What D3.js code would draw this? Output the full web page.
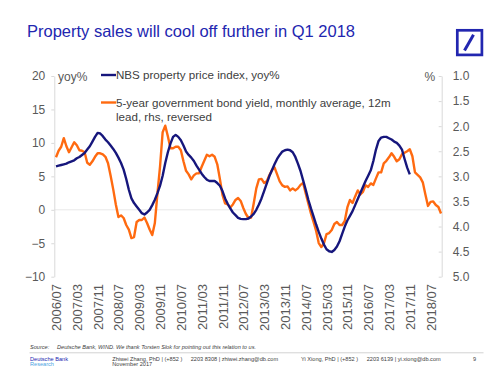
<!DOCTYPE html>
<html>
<head>
<meta charset="utf-8">
<script src="https://cdn.jsdelivr.net/npm/d3@7"></script>
<style>
  html, body { margin: 0; padding: 0; background: #fff; }
  svg { display: block; font-family: "Liberation Sans", Arial, sans-serif; }
</style>
</head>
<body>
<div id="chart"></div>
<script>
// NBS property price index, yoy% (monthly, from 2006/07)
const nbsYoy = [
  6.5, 6.6, 6.7, 6.8, 6.9, 7.1, 7.25, 7.4, 7.7, 7.9,
  8.2, 8.5, 9.0, 9.5, 10.2, 10.9, 11.5, 11.4, 11.0, 10.5,
  10.1, 9.6, 9.1, 8.5, 7.8, 7.0, 6.0, 4.6, 3.0, 1.7,
  1.0, 0.5, 0.0, -0.5, -0.7, -0.4, 0.0, 0.7, 1.5, 2.5,
  3.6, 5.1, 7.0, 8.6, 9.9, 10.9, 11.2, 10.9, 10.4, 9.6,
  8.7, 8.2, 7.8, 7.3, 6.6, 6.0, 5.4, 4.9, 4.5, 4.3,
  4.3, 4.3, 4.0, 3.6, 2.8, 1.7, 0.9, 0.2, -0.4, -0.8,
  -1.2, -1.35, -1.4, -1.4, -1.3, -1.0, -0.6, 0.0, 0.8, 1.7,
  2.8, 3.9, 5.0, 5.9, 6.8, 7.6, 8.2, 8.7, 8.9, 9.0,
  8.9, 8.6, 7.9, 6.9, 5.8, 4.4, 3.0, 1.5, 0.2, -1.0,
  -2.2, -3.3, -4.3, -5.2, -5.9, -6.2, -6.3, -6.0, -5.5, -4.7,
  -3.6, -2.5, -1.6, -0.9, -0.2, 0.7, 1.6, 2.5, 3.4, 4.3,
  5.1, 5.9, 7.3, 9.0, 10.3, 10.8, 10.9, 10.9, 10.7, 10.5,
  10.2, 10.0, 9.6, 9.0, 7.6, 6.3, 5.3
];

// 5y government bond yield, monthly avg, 12m lead (%), plotted on reversed rhs
const bondYield = [
  2.62, 2.49, 2.41, 2.24, 2.40, 2.52, 2.42, 2.32, 2.38, 2.48,
  2.49, 2.52, 2.73, 2.77, 2.70, 2.61, 2.54, 2.54, 2.56, 2.61,
  2.74, 2.99, 3.26, 3.56, 3.81, 3.78, 3.83, 3.97, 4.06, 4.23,
  4.21, 3.91, 3.87, 3.87, 3.82, 3.93, 4.06, 4.17, 3.93, 3.34,
  2.80, 2.12, 1.99, 2.20, 2.44, 2.44, 2.41, 2.41, 2.48, 2.70,
  2.89, 2.96, 3.06, 2.98, 2.94, 2.94, 2.81, 2.69, 2.57, 2.60,
  2.57, 2.61, 2.76, 3.05, 3.37, 3.54, 3.56, 3.62, 3.56, 3.47,
  3.43, 3.49, 3.63, 3.75, 3.83, 3.82, 3.54, 3.24, 3.06, 3.05,
  3.13, 3.10, 2.98, 2.88, 2.82, 2.96, 3.10, 3.18, 3.21, 3.20,
  3.28, 3.24, 3.28, 3.24, 3.17, 3.13, 3.34, 3.54, 3.74, 3.91,
  4.09, 4.33, 4.41, 4.33, 4.15, 4.13, 4.07, 3.95, 3.91, 3.97,
  3.97, 3.89, 3.62, 3.47, 3.53, 3.40, 3.28, 3.36, 3.31, 3.18,
  3.21, 3.14, 3.17, 3.04, 2.92, 2.92, 2.74, 2.69, 2.62, 2.54,
  2.61, 2.70, 2.66, 2.56, 2.53, 2.50, 2.46, 2.60, 2.92, 2.97,
  3.02, 3.12, 3.36, 3.59, 3.51, 3.50, 3.57, 3.61, 3.74
];

const xTickLabels = [
  "2006/07", "2007/03", "2007/11", "2008/07", "2009/03", "2009/11", "2010/07",
  "2011/03", "2011/11", "2012/07", "2013/03", "2013/11", "2014/07", "2015/03",
  "2015/11", "2016/07", "2017/03", "2017/11", "2018/07"
];
const leftTicks = [20, 15, 10, 5, 0, -5, -10];
const rightTicks = [1.0, 1.5, 2.0, 2.5, 3.0, 3.5, 4.0, 4.5, 5.0];

const W = 500, H = 374;
const blue = "#16167c", orange = "#ff6a10";
const dbBlue = "#2226b0";

const fmt = d3.timeFormat("%Y/%m");
const startMonth = new Date(2006, 6, 1);
const monthIndex = label => {
  const [y, m] = label.split("/").map(Number);
  return (y - 2006) * 12 + (m - 7);
};

const svg = d3.select("#chart").append("svg")
  .attr("width", W).attr("height", H);

svg.append("rect").attr("width", W).attr("height", H).attr("fill", "#fff");

// title + logo
svg.append("text")
  .attr("x", 27).attr("y", 37)
  .attr("fill", dbBlue)
  .attr("font-size", 16.5)
  .text("Property sales will cool off further in Q1 2018");

svg.append("rect")
  .attr("x", 457.3).attr("y", 30.3)
  .attr("width", 24.6).attr("height", 24.6)
  .attr("fill", "none").attr("stroke", dbBlue).attr("stroke-width", 2.7);
svg.append("line")
  .attr("x1", 464.5).attr("y1", 50.5).attr("x2", 473.5).attr("y2", 34.8)
  .attr("stroke", dbBlue).attr("stroke-width", 3);

// scales
const x = d3.scaleLinear().domain([0, bondYield.length - 1]).range([56, 441]);
const yL = d3.scaleLinear().domain([-10, 20]).range([276.7, 76]);
const yR = d3.scaleLinear().domain([1, 5]).range([76, 276.7]);

const axisColor = "#d9d9d9", textColor = "#595959";

// zero line
svg.append("line")
  .attr("x1", 54.3).attr("x2", 441.7)
  .attr("y1", yL(0)).attr("y2", yL(0))
  .attr("stroke", "#e8e8e8").attr("stroke-width", 1);

// left axis
const gL = svg.append("g")
  .attr("transform", "translate(54.3,0)")
  .call(d3.axisLeft(yL).tickValues(leftTicks).tickSize(3).tickSizeOuter(0).tickPadding(6));
// right axis
const gR = svg.append("g")
  .attr("transform", "translate(441.7,0)")
  .call(d3.axisRight(yR).tickValues(rightTicks).tickFormat(d3.format(".1f"))
    .tickSize(-3).tickSizeOuter(0).tickPadding(11));

[gL, gR].forEach(g => {
  g.select(".domain").attr("stroke", axisColor);
  g.selectAll(".tick line").attr("stroke", axisColor);
  g.selectAll(".tick text")
    .attr("fill", textColor)
    .attr("font-size", 12)
    .attr("font-family", "Liberation Sans, Arial, sans-serif");
});

// x axis labels (rotated)
const gX = svg.append("g")
  .attr("transform", "translate(0,284)")
  .call(d3.axisBottom(x)
    .tickValues(xTickLabels.map(monthIndex))
    .tickFormat(i => fmt(d3.timeMonth.offset(startMonth, i)))
    .tickSize(0).tickSizeOuter(0));
gX.select(".domain").remove();
gX.selectAll(".tick text")
  .attr("fill", textColor)
  .attr("font-size", 13)
  .attr("font-family", "Liberation Sans, Arial, sans-serif")
  .attr("transform", "rotate(-90)")
  .attr("text-anchor", "end")
  .attr("x", 0).attr("y", 0)
  .attr("dy", "0.35em");

// axis unit labels
svg.append("text").attr("x", 58).attr("y", 81)
  .attr("fill", textColor).attr("font-size", 12).text("yoy%");
svg.append("text").attr("x", 424.5).attr("y", 81)
  .attr("fill", textColor).attr("font-size", 12).text("%");

// lines
const lineL = d3.line().x((d, i) => x(i)).y(d => yL(d));
const lineR = d3.line().x((d, i) => x(i)).y(d => yR(d));

svg.append("path").datum(bondYield)
  .attr("d", lineR)
  .attr("fill", "none").attr("stroke", orange)
  .attr("stroke-width", 2.4).attr("stroke-linejoin", "round");

svg.append("path").datum(nbsYoy)
  .attr("d", lineL)
  .attr("fill", "none").attr("stroke", blue)
  .attr("stroke-width", 2.4).attr("stroke-linejoin", "round");

// legend
const legendColor = "#404040";
const legend = svg.append("g").attr("font-size", 11.6).attr("fill", legendColor);
legend.append("line").attr("x1", 101).attr("x2", 116).attr("y1", 75).attr("y2", 75)
  .attr("stroke", blue).attr("stroke-width", 2.4);
legend.append("text").attr("x", 116).attr("y", 79)
  .text("NBS property price index, yoy%");
legend.append("line").attr("x1", 101).attr("x2", 116).attr("y1", 102.5).attr("y2", 102.5)
  .attr("stroke", orange).attr("stroke-width", 2.4);
legend.append("text").attr("x", 116).attr("y", 106.5)
  .text("5-year government bond yield, monthly average, 12m");
legend.append("text").attr("x", 116).attr("y", 121)
  .text("lead, rhs, reversed");

// footer
const foot = svg.append("g").attr("font-size", 5.6);
foot.append("text").attr("x", 30).attr("y", 349)
  .attr("font-style", "italic").attr("fill", "#404040").text("Source:");
foot.append("text").attr("x", 57).attr("y", 349)
  .attr("font-style", "italic").attr("fill", "#404040")
  .text("Deutsche Bank, WIND. We thank Torsten Slok for pointing out this relation to us.");
foot.append("line").attr("x1", 29.5).attr("x2", 483.5).attr("y1", 352.8).attr("y2", 352.8)
  .attr("stroke", "#bfbfbf").attr("stroke-width", 0.7);
foot.append("text").attr("x", 30).attr("y", 360.5).attr("fill", dbBlue).text("Deutsche Bank");
foot.append("text").attr("x", 30).attr("y", 366).attr("fill", "#4aa3df").text("Research");
foot.append("text").attr("x", 112.3).attr("y", 360.5).attr("fill", "#404040")
  .text("Zhiwei Zhang, PhD | (+852 )");
foot.append("text").attr("x", 190.7).attr("y", 360.5).attr("fill", "#404040")
  .text("2203 8308 | zhiwei.zhang@db.com");
foot.append("text").attr("x", 112.3).attr("y", 366).attr("fill", "#404040")
  .text("November 2017");
foot.append("text").attr("x", 301).attr("y", 360.5).attr("fill", "#404040")
  .text("Yi Xiong, PhD | (+852 )");
foot.append("text").attr("x", 366.7).attr("y", 360.5).attr("fill", "#404040")
  .text("2203 6139 | yi.xiong@db.com");
foot.append("text").attr("x", 473).attr("y", 360.5).attr("fill", "#404040").text("9");
</script>
</body>
</html>
